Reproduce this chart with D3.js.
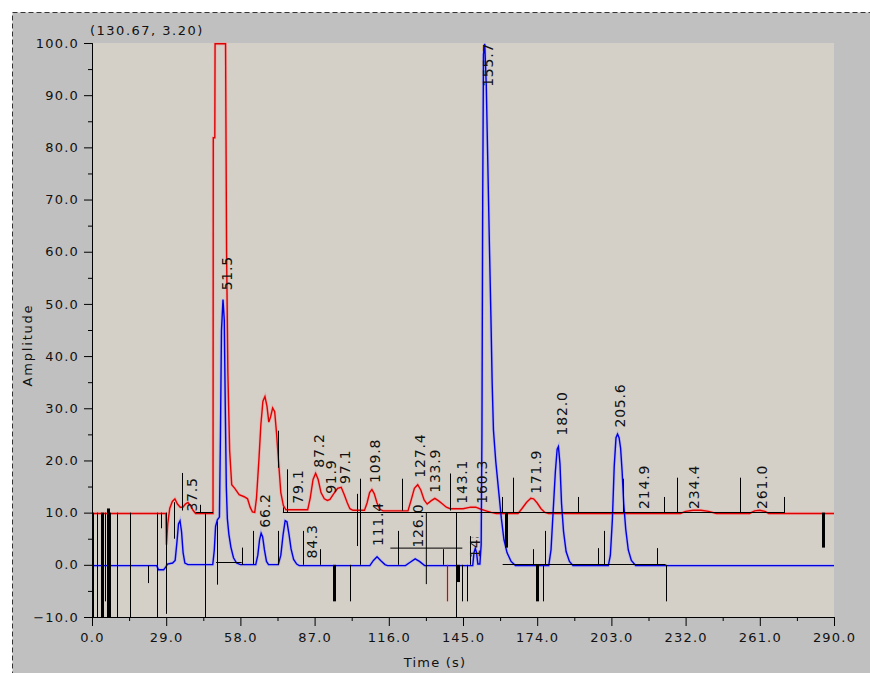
<!DOCTYPE html>
<html>
<head>
<meta charset="utf-8">
<script src="https://cdn.jsdelivr.net/npm/d3@7"></script>
<style>
  body { margin: 0; background: #fff; }
  svg text { font-family: "DejaVu Sans", Verdana, sans-serif; fill: #111; }
  .tick text { font-size: 13px; letter-spacing: 1.2px; }
  .peak { font-size: 14px; letter-spacing: 0.8px; }
</style>
</head>
<body>
<svg id="chart" width="870" height="673"></svg>
<script>
  // red channel (offset baseline 10)
  const redTrace = [
    [0,10],[28.9,10],[29.1,4],[29.6,8],[30.4,11],[31.4,12.3],[32.4,12.8],[33.4,11.8],[34.5,11.2],[35.5,11.2],
    [36.5,11.8],[37.5,12.1],[38.5,11.5],[39.5,10.6],[40.5,10],[47.3,10],[47.4,82],[48.0,82],[48.1,100],[52.2,100],
    [52.6,60],[53.1,37],[53.8,22],[54.6,15.5],[55.8,14.8],[57.5,13.6],[59.5,13.2],[60.8,12.8],[61.8,11.2],[62.7,10.3],
    [63.6,10.2],[64.3,13],[65.2,20],[66,27],[66.8,31.5],[67.6,32.4],[68.4,30.5],[69.1,27.5],[69.8,28.5],[70.6,30.2],
    [71.4,29.5],[72.1,25.5],[72.9,20],[73.8,14],[74.8,11.5],[75.8,10.7],[84.3,10.7],[85.3,13],[86.4,16.5],[87.4,17.7],
    [88.4,16.5],[89.5,14],[90.8,12.8],[92,12.5],[93,12.7],[94.5,13.8],[96,14.8],[97.4,15],[98.6,13.6],[99.8,12],
    [100.8,10.9],[102,10.6],[106.5,10.6],[107.5,12],[108.5,14],[109.4,14.6],[110.3,13.8],[111.4,12],[112.5,10.8],[113.8,10.5],
    [123.5,10.5],[124.7,12.5],[126,14.8],[127.3,15.5],[128.5,14.5],[129.8,12.6],[131,11.8],[132.5,12.4],[134,12.9],[135.5,12.4],
    [137,11.8],[138.5,11.2],[140,10.9],[145,10.9],[148,11.2],[150,11.2],[152,10.8],[154,10.5],[156,10.2],[158,10],
    [166.5,10],[168,10.9],[169.8,12.1],[171.5,12.9],[172.6,12.8],[174,12],[175.5,10.9],[177,10.2],[178.5,10],[230,10],
    [232,10.4],[235,10.6],[238,10.6],[241,10.4],[244,10],[257,10],[259,10.5],[261,10.6],[263,10.4],[264.5,10],[290,10]
  ];

  // blue channel (baseline 0)
  const blueTrace = [
    [0,0],[25.3,0],[26,-0.8],[28,-0.8],[28.8,-0.3],[29.5,0.3],[31.5,0.5],[32.5,1],[33.2,4.5],[33.8,8],
    [34.4,8.6],[35,6.5],[35.6,2.5],[36.3,0.5],[37.5,0.2],[47.2,0.2],[47.8,3],[48.3,7.5],[49,8.8],[49.8,9.3],
    [50.2,25],[50.6,45],[51.2,51],[51.7,47],[52.1,30],[52.5,15],[52.9,9],[53.5,6],[54.3,3.5],[55.3,1.5],
    [56.5,0.5],[58,0.2],[64,0.2],[64.8,2],[65.5,5],[66.1,6.2],[66.7,5.5],[67.4,3],[68.2,0.8],[69,0.2],
    [72.8,0.2],[73.8,2],[74.7,6],[75.5,8.6],[76.2,8.4],[77,6],[77.8,3.2],[78.8,1.2],[80,0.3],[81,0],
    [108.6,0],[110,1],[111.4,1.7],[112.8,1],[114.5,0.2],[115.5,0],[122.5,0],[124.5,0.7],[126.3,1.3],[128,0.8],
    [130,0],[148.8,0],[149.3,2.5],[149.8,3.3],[150.3,2.5],[150.8,0.3],[151.6,0.3],[152.1,4],[152.4,25],[152.7,70],
    [153,98],[153.5,100],[154.1,92],[154.7,77],[155.3,62],[155.9,48],[156.4,35],[156.9,26],[157.8,20],[159,14],
    [160,9],[161,5],[162.2,2.5],[163.8,0.8],[165.5,0],[178.5,0],[179.4,3],[180.3,11],[181.1,18],[181.8,22.3],
    [182.3,22.8],[182.9,19.5],[183.5,12],[184.3,6.5],[185.3,2.7],[186.6,0.8],[188,0],[201.8,0],[202.6,2],[203.4,9],
    [204.1,19],[204.8,24.5],[205.4,25.2],[206,24.5],[206.6,22.5],[207.2,18],[207.8,12],[208.6,7],[209.6,3],[210.8,1],
    [212.5,0],[290,0]
  ];

  // black integration marks: [time, from, to]
  const markers = [
    [0.5,10,-10],[1.8,10,-10],[5.1,10,-7],[7.0,10,-10],[9.7,10,-10],[14.9,10,-10],[21.8,-0.2,-3.5],[25.3,10,-10],
    [26.8,10,7],[28.8,10,-9.4],[32,12,5],[35.2,17.6,10.4],[42.2,11.5,10],[44.2,10,-10],[48.7,8.3,-3.8],[58.5,3.3,0],
    [62.9,6.5,0],[72.6,6.5,0],[72.7,25.7,18.6],[74.8,11,10],[76.4,18.3,10],[82.6,6.5,0],[89.3,3,0],[100.8,0,-7],
    [103.5,13.6,3.6],[104.9,16.5,0],[119.7,6.5,0],[121,16.5,10.4],[137.3,3,0],[139.9,17.5,10.4],[142.4,10,-10],
    [144.5,0,-7],[146.4,0,-7],[147.7,5.5,0],[160.1,13,10],[164.4,16.7,10],[172.5,3,0],[176.1,0,-7],[177,6.5,0],
    [190.1,13,10],[197.9,3.2,0],[200.1,6.5,0],[207.7,16.5,10],[220.7,3.2,0],[223.4,13,10],[224.2,0,-7],
    [228.5,16.7,10],[253.1,16.7,10],[270.6,13,10]
  ];
  const heavyMarkers = [
    [3.9,10,-10],[6.1,10.8,-10],[94.6,0,-7],[142.9,0,-3.3],[161.8,10,3.3],[173.9,0,-7],[285.8,10,3.3]
  ];
  const redMarkers = [[138.6,0,-7]];

  // black baselines: [from, to, amplitude]
  const baselines = [[40.5,47.3,10],[74.6,270.8,10],[48.5,58.5,0.4],[160.5,224.2,0]];

  // peak labels
  const peakText = ["37.5","51.5","66.2","79.1","84.3","87.2","91.9","97.1","109.8","111.4","126.0","127.4",
                    "133.9","143.1","148.0","155.7","160.3","171.9","182.0","205.6","214.9","234.4","261.0"];
  const peakPos  = [37.1,50.8,65.6,78.2,84.0,86.4,91.1,96.9,108.6,109.8,125.1,126.2,
                    132.1,142.4,147.7,152.8,150.4,171.2,181.7,204.4,213.4,233.0,259.9];
  const peakAmp  = [10.2,52.6,7.1,11.7,1.2,18.6,13.6,15.5,15.7,3.6,3.3,16.7,
                    13.8,11.7,1.3,91.6,11.7,13.6,24.8,26.3,10.7,10.7,10.7];

  const cursor = [130.67, 3.2];
  const yTicks = d3.range(-10, 100.1, 10);
  const xTicks = d3.range(0, 290.1, 29);

  const svg = d3.select("#chart");
  const x = d3.scaleLinear().domain([0, 290]).range([92, 834]);
  const y = d3.scaleLinear().domain([-10, 100]).range([617, 43]);

  // panel
  svg.append("rect").attr("x", 12.5).attr("y", 12.5).attr("width", 900).attr("height", 700)
    .attr("fill", "#c0c0c0").attr("stroke", "#333").attr("stroke-dasharray", "5,3");
  svg.append("rect").attr("x", 92).attr("y", 43).attr("width", 742).attr("height", 574)
    .attr("fill", "#d4d0c8");

  svg.append("clipPath").attr("id", "plotclip").append("rect")
    .attr("x", 92).attr("y", 41.5).attr("width", 742).attr("height", 575.5);
  const plot = svg.append("g").attr("clip-path", "url(#plotclip)");

  const line = d3.line().x(d => x(d[0])).y(d => y(d[1]));

  // traces sit a hair under the black baselines, like the original
  const traces = plot.append("g").attr("transform", "translate(0,0.8)");
  [[redTrace, "#f2a0a0"], [blueTrace, "#a8a8f0"]].forEach(([data, halo]) => {
    traces.append("path").datum(data).attr("d", line)
      .attr("fill", "none").attr("stroke", halo).attr("stroke-width", 3.2).attr("stroke-opacity", 0.6);
  });
  [[redTrace, "#e00000"], [blueTrace, "#0000dd"]].forEach(([data, col]) => {
    traces.append("path").datum(data).attr("d", line)
      .attr("fill", "none").attr("stroke", col).attr("stroke-width", 1.4);
  });

  plot.selectAll(".base").data(baselines).join("line")
    .attr("x1", d => x(d[0])).attr("x2", d => x(d[1]))
    .attr("y1", d => Math.round(y(d[2])) - 0.5).attr("y2", d => Math.round(y(d[2])) - 0.5)
    .attr("stroke", "#000").attr("stroke-width", 1);

  function drawMarks(data, color, width) {
    plot.append("g").selectAll("line").data(data).join("line")
      .attr("x1", d => Math.round(x(d[0])) + 0.5).attr("x2", d => Math.round(x(d[0])) + 0.5)
      .attr("y1", d => y(d[1])).attr("y2", d => y(d[2]))
      .attr("stroke", color).attr("stroke-width", width);
  }
  drawMarks(markers, "#000", 1);
  drawMarks(heavyMarkers, "#000", 3);
  drawMarks(redMarkers, "#e00000", 1.2);

  // cursor crosshair
  const cx = x(cursor[0]), cy = y(cursor[1]);
  plot.append("path").attr("d", `M${cx - 36},${cy}H${cx + 36}M${cx},${cy - 36}V${cy + 36}`)
    .attr("stroke", "#000").attr("stroke-width", 1);

  // peak labels; the one squeezed under the big peak only shows its foot
  svg.append("clipPath").attr("id", "footclip").append("rect")
    .attr("x", 0).attr("y", 537).attr("width", 870).attr("height", 80);
  plot.append("g").selectAll("g").data(peakText).join("g")
    .attr("clip-path", d => d === "148.0" ? "url(#footclip)" : null)
    .append("text")
    .attr("class", "peak")
    .attr("transform", (d, i) => `translate(${x(peakPos[i]) + 10.5},${y(peakAmp[i])}) rotate(-90)`)
    .text(d => d);

  // axes
  svg.append("g").attr("transform", "translate(92,0)")
    .call(d3.axisLeft(y).tickValues(yTicks).tickFormat(d3.format(".1f")).tickSize(8).tickPadding(5));
  svg.append("g").attr("transform", "translate(92,0)")
    .call(d3.axisLeft(y).tickValues(yTicks.slice(0, -1).map(v => v + 5)).tickFormat("").tickSize(4));
  svg.append("g").attr("transform", "translate(0,617)")
    .call(d3.axisBottom(x).tickValues(xTicks).tickFormat(d3.format(".1f")).tickSize(9).tickPadding(7));
  svg.append("g").attr("transform", "translate(0,617)")
    .call(d3.axisBottom(x).tickValues(xTicks.slice(0, -1).map(v => v + 14.5)).tickFormat("").tickSize(4));
  svg.selectAll(".domain").attr("stroke", "#000");
  svg.selectAll(".tick line").attr("stroke", "#000");
  svg.selectAll(".tick text").attr("fill", "#111");

  svg.append("text").attr("x", 435).attr("y", 667).attr("text-anchor", "middle")
    .style("font-size", "13px").style("letter-spacing", "1.2px").text("Time (s)");
  svg.append("text").attr("transform", "translate(32,345) rotate(-90)").attr("text-anchor", "middle")
    .style("font-size", "13px").style("letter-spacing", "1.8px").text("Amplitude");
  svg.append("text").attr("x", 90).attr("y", 35)
    .style("font-size", "13px").style("letter-spacing", "1.5px")
    .text(`(${cursor[0].toFixed(2)}, ${cursor[1].toFixed(2)})`);
</script>
</body>
</html>
